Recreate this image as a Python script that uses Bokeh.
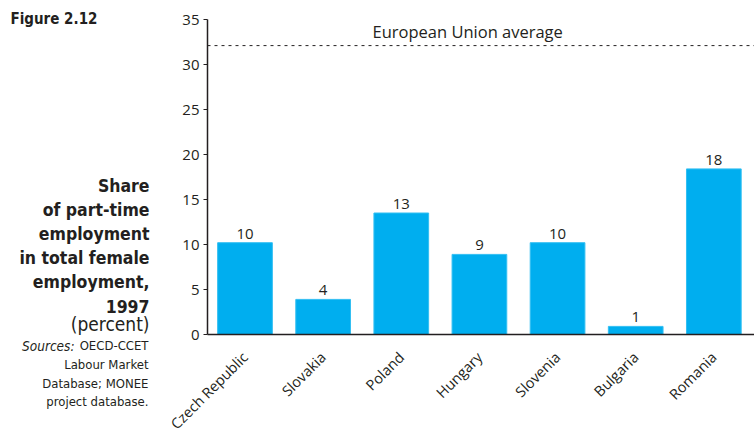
import math
from bokeh.plotting import figure
from bokeh.models import (Label, LabelSet, Range1d, ColumnDataSource, FixedTicker,
                          LinearAxis)
from bokeh.core.properties import value
from bokeh.embed import file_html
from bokeh.resources import INLINE

countries = ["Czech Republic", "Slovakia", "Poland", "Hungary", "Slovenia", "Bulgaria", "Romania"]
shares = [10.2, 3.9, 13.5, 8.9, 10.2, 0.9, 18.4]
share_labels = ["10", "4", "13", "9", "10", "1", "18"]
eu_average = 32.1
y_ticks = [0, 5, 10, 15, 20, 25, 30, 35]

TXT = "#231F20"
FONT = "Open Sans"
COND = "DejaVu Sans Condensed, Lato"

W, H = 754, 429
# layout: pixel geometry of the plotting area
CAT_PX = 78.14          # pixels per category
FIRST_PX = 244.5        # x pixel of first category centre
AXIS_PX = 207           # x pixel of the y axis
ZERO_PX = 334           # y pixel of value 0
UNIT_PX = 9.0           # pixels per percentage point

x_start = -FIRST_PX / CAT_PX
x_end = (W - FIRST_PX) / CAT_PX
axis_x = (AXIS_PX - FIRST_PX) / CAT_PX
y_start = (ZERO_PX - H) / UNIT_PX
y_end = ZERO_PX / UNIT_PX

idx = list(range(len(countries)))
src = ColumnDataSource(dict(x=idx, country=countries, share=shares, label=share_labels))

p = figure(width=W, height=H, x_range=Range1d(x_start, x_end), y_range=Range1d(y_start, y_end),
           x_axis_location=None, y_axis_location=None,
           output_backend="svg", toolbar_location=None,
           min_border=0, min_border_left=0, min_border_right=0,
           min_border_top=0, min_border_bottom=0)
p.outline_line_color = None
p.grid.visible = False

p.vbar(x="x", top="share", width=0.7, source=src,
       fill_color="#00AEEF", line_color="#33BFF2", line_width=1)

p.add_layout(LabelSet(x="x", y="share", text="label", source=src,
                      y_offset=4, text_align="center", text_baseline="bottom",
                      text_font=value(FONT), text_font_size="15px", text_color=TXT))

# EU average dashed line + label
p.segment(x0=[axis_x], x1=[x_end], y0=[eu_average], y1=[eu_average],
          line_color=TXT, line_width=1, line_dash="3 4")
p.add_layout(Label(x=372, y=eu_average, x_units="screen", y_units="data", y_offset=3,
                   text="European Union average", text_font=FONT,
                   text_font_size="16.5px", text_color=TXT, text_baseline="bottom"))

# y axis
yax = LinearAxis(fixed_location=axis_x, bounds=(0, y_ticks[-1]),
                 ticker=FixedTicker(ticks=y_ticks))
yax.minor_tick_line_color = None
yax.major_tick_in = 0
yax.major_tick_out = 4
yax.axis_line_width = 1.5
yax.axis_line_color = TXT
yax.major_tick_line_color = TXT
yax.major_tick_line_width = 1.2
yax.major_label_text_font = FONT
yax.major_label_text_font_size = "15px"
yax.major_label_text_color = TXT
yax.major_label_standoff = 4
p.add_layout(yax, "left")

# x axis with country names
xax = LinearAxis(fixed_location=0, bounds=(axis_x, x_end),
                 ticker=FixedTicker(ticks=idx),
                 major_label_overrides={i: c for i, c in zip(idx, countries)})
xax.minor_tick_line_color = None
xax.major_tick_line_color = None
xax.major_tick_in = 0
xax.major_tick_out = 0
xax.axis_line_width = 1.5
xax.axis_line_color = TXT
xax.major_label_orientation = math.pi / 4
xax.major_label_text_font = FONT
xax.major_label_text_font_size = "14.5px"
xax.major_label_text_color = TXT
xax.major_label_standoff = 20
p.add_layout(xax, "below")


# left-hand caption (screen units = canvas pixels, y measured from bottom)
def lab(text, x, y, size, style="normal", font=COND, align="right"):
    p.add_layout(Label(x=x, y=H - y, x_units="screen", y_units="screen",
                       text=text, text_font=font, text_font_size=size,
                       text_font_style=style, text_color=TXT,
                       text_align=align, text_baseline="middle"))


lab("Figure 2.12", 10, 18, "15px", "bold", align="left")
title_lines = ["Share", "of part-time", "employment", "in total female", "employment,", "1997"]
for i, t in enumerate(title_lines):
    lab(t, 149, 185 + i * 24.1, "17.5px", "bold")
lab("(percent)", 149, 323, "19px")
lab("OECD-CCET", 148, 345, "13px")
lab("Sources:", 74, 345, "13.5px", "italic")
for i, t in enumerate(["Labour Market", "Database; MONEE", "project database."]):
    lab(t, 148, 364 + i * 18.5, "13px")

open("out.html", "w").write(file_html(p, INLINE))
